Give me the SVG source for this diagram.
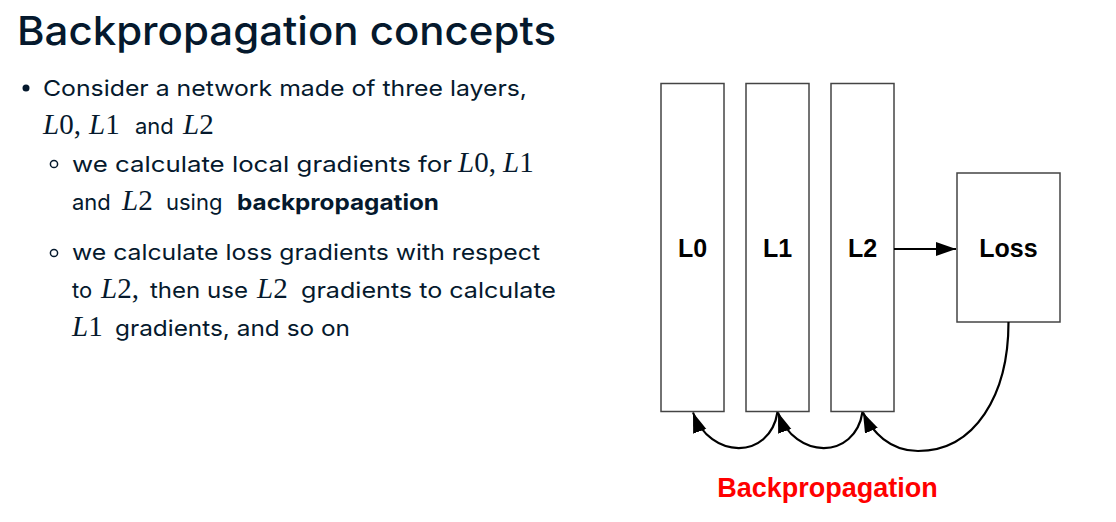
<svg xmlns="http://www.w3.org/2000/svg" width="1116" height="522" viewBox="0 0 1116 522">
<style>
.title{font-family:Inter,"Noto Sans",sans-serif;font-size:40px;font-weight:500;fill:#05192D}
.b{font-family:Inter,"Noto Sans",sans-serif;font-size:22px;fill:#05192D}
.bb{font-weight:700}
.m{font-family:"Liberation Serif",serif;font-size:29px;fill:#05192D}
.mi{font-style:italic}
.box{fill:#fff;stroke:#444;stroke-width:1.5}
.lbl{font-family:"Liberation Sans",Arial,sans-serif;font-size:25px;font-weight:700;fill:#000;text-anchor:middle}
.edge{fill:none;stroke:#000;stroke-width:2.2}
.red{font-family:"Liberation Sans",Arial,sans-serif;font-size:27px;font-weight:700;fill:#FF0000;text-anchor:middle}
</style>
<defs>
<marker id="ah" markerUnits="userSpaceOnUse" markerWidth="22" markerHeight="16" refX="20" refY="7" orient="auto">
<path d="M0,0 L20,7 L0,14 z" fill="#000"/>
</marker>
</defs>
<rect width="1116" height="522" fill="#fff"/>
<text class="title" x="17" y="45" textLength="539" lengthAdjust="spacingAndGlyphs">Backpropagation concepts</text>

<g id="bullets">
<circle cx="26" cy="88" r="3.5" fill="#05192D"/>
<text class="b" x="43" y="96" textLength="484" lengthAdjust="spacingAndGlyphs">Consider a network made of three layers,</text>
<text class="m" y="134"><tspan x="43" class="mi">L</tspan><tspan>0,</tspan><tspan x="89" class="mi">L</tspan><tspan>1</tspan></text>
<text class="b" x="135" y="134">and</text>
<text class="m" y="134"><tspan x="183" class="mi">L</tspan><tspan>2</tspan></text>

<circle cx="54" cy="164" r="3.6" fill="none" stroke="#05192D" stroke-width="1.5"/>
<text class="b" x="72" y="172" textLength="380" lengthAdjust="spacingAndGlyphs">we calculate local gradients for</text>
<text class="m" y="172"><tspan x="458" class="mi">L</tspan><tspan>0,</tspan><tspan x="503" class="mi">L</tspan><tspan>1</tspan></text>
<text class="b" x="72" y="210">and</text>
<text class="m" y="210"><tspan x="122" class="mi">L</tspan><tspan>2</tspan></text>
<text class="b" x="166" y="210">using</text>
<text class="b bb" x="237" y="210" textLength="202" lengthAdjust="spacingAndGlyphs">backpropagation</text>

<circle cx="54" cy="253" r="3.6" fill="none" stroke="#05192D" stroke-width="1.5"/>
<text class="b" x="72" y="260" textLength="468" lengthAdjust="spacingAndGlyphs">we calculate loss gradients with respect</text>
<text class="b" x="72" y="298">to</text>
<text class="m" y="298"><tspan x="101" class="mi">L</tspan><tspan>2,</tspan></text>
<text class="b" x="150" y="298" textLength="98" lengthAdjust="spacingAndGlyphs">then use</text>
<text class="m" y="298"><tspan x="257" class="mi">L</tspan><tspan>2</tspan></text>
<text class="b" x="301" y="298" textLength="255" lengthAdjust="spacingAndGlyphs">gradients to calculate</text>
<text class="m" y="336"><tspan x="72" class="mi">L</tspan><tspan>1</tspan></text>
<text class="b" x="115" y="336" textLength="235" lengthAdjust="spacingAndGlyphs">gradients, and so on</text>
</g>

<g id="L0"><rect class="box" x="661" y="83.5" width="63" height="328"/><text class="lbl" x="692.5" y="257">L0</text></g>
<g id="L1"><rect class="box" x="746" y="83.5" width="63" height="328"/><text class="lbl" x="777.5" y="257">L1</text></g>
<g id="L2"><rect class="box" x="831" y="83.5" width="63" height="328"/><text class="lbl" x="862.5" y="257">L2</text></g>
<g id="Loss"><rect class="box" x="957" y="173" width="103" height="149"/><text class="lbl" x="1008.5" y="257">Loss</text></g>

<g id="connectors">
<path class="edge" d="M894,249 L956,249" marker-end="url(#ah)"/>
<path class="edge" d="M1008.5,322 C1008.5,395 975,451 918,451 C890,451 872,432 863,412.5" marker-end="url(#ah)"/>
<path class="edge" d="M862.5,412 C855,460 795,460 778,412.5" marker-end="url(#ah)"/>
<path class="edge" d="M777.5,412 C770,460 710,460 693,412.5" marker-end="url(#ah)"/>
</g>

<text class="red" x="827.5" y="497">Backpropagation</text>
</svg>
